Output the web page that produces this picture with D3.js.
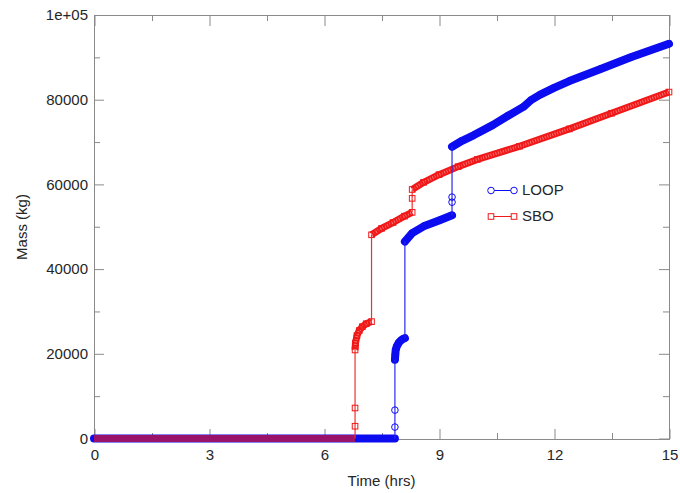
<!DOCTYPE html>
<html>
<head>
<meta charset="utf-8">
<script src="https://cdn.jsdelivr.net/npm/d3@7"></script>
<style>
  html, body { margin: 0; padding: 0; background: #fff; }
  svg { display: block; font-family: "Liberation Sans", Arial, sans-serif; }
</style>
</head>
<body>
<svg id="chart" width="680" height="493"></svg>
<script>
// ---- Data ----
const loopTime = [0, 7.85, 7.85, 7.85, 7.85, 7.86, 7.87, 7.90, 7.95, 8.00, 8.05, 8.11,
                  8.11, 8.30, 8.60, 9.00, 9.34,
                  9.34, 9.34, 9.34, 9.60, 9.90, 10.40, 10.80, 11.20, 11.40, 11.64, 12.00, 12.40, 13.20, 14.00, 15.00];
const loopMass = [0, 0, 2700, 6700, 18600, 19800, 20900, 21800, 22600, 23100, 23450, 23700,
                  46500, 48500, 50100, 51500, 52700,
                  55800, 57000, 68900, 70300, 71600, 74000, 76200, 78300, 79900, 81200, 82800, 84400, 87200, 90000, 93200];

const sboTime = [0, 6.81, 6.81, 6.81, 6.81, 6.82, 6.86, 6.92, 7.00, 7.10, 7.24,
                 7.24, 7.50, 7.80, 8.10, 8.30,
                 8.30, 8.30, 8.60, 9.00, 9.50, 10.00, 11.10, 12.40, 13.50, 15.00];
const sboMass = [0, 0, 2900, 7200, 20900, 22500, 24300, 25500, 26400, 27100, 27600,
                 48100, 49600, 51000, 52500, 53400,
                 56700, 58800, 60500, 62300, 64200, 65900, 69000, 73100, 76800, 81800];

const seriesNames = ["LOOP", "SBO"];
const xTicks = [0, 3, 6, 9, 12, 15];
const xTickLabels = ["0", "3", "6", "9", "12", "15"];
const xMinorTicks = [1.5, 4.5, 7.5, 10.5, 13.5];
const yTicks = [0, 20000, 40000, 60000, 80000, 100000];
const yTickLabels = ["0", "20000", "40000", "60000", "80000", "1e+05"];
const yMinorTicks = [10000, 30000, 50000, 70000, 90000];

// ---- Layout ----
const L = 94, R = 669, T = 15, B = 439;
const BLUE = "#0c0cf0", RED = "#f01818", AXIS = "#8a8a8a", TEXT = "#262626";
const FS = 15;

const svg = d3.select("#chart");
const x = d3.scaleLinear().domain([0, 15]).range([L, R]);
const y = d3.scaleLinear().domain([0, 100000]).range([B - 0.5, T]);

// frame
svg.append("rect").attr("x", L + 0.5).attr("y", T + 0.5).attr("width", R - L).attr("height", B - T)
  .attr("fill", "none").attr("stroke", AXIS).attr("stroke-width", 1);

function styleAxis(g, showLabels) {
  g.select(".domain").remove();
  g.selectAll(".tick line").attr("stroke", AXIS);
  if (!showLabels) g.selectAll(".tick text").remove();
  else g.selectAll(".tick text").attr("fill", TEXT).attr("font-size", FS)
        .attr("font-family", "Liberation Sans, Arial, sans-serif");
}
// bottom
svg.append("g").attr("transform", `translate(0.5,${B})`)
  .call(d3.axisBottom(x).tickValues(xTicks).tickSize(-10).tickPadding(10)
        .tickFormat((d, i) => xTickLabels[i])).call(g => styleAxis(g, true));
svg.append("g").attr("transform", `translate(0.5,${B})`)
  .call(d3.axisBottom(x).tickValues(xMinorTicks).tickSize(-6).tickFormat(""))
  .call(g => styleAxis(g, false));
// top
svg.append("g").attr("transform", `translate(0.5,${T})`)
  .call(d3.axisTop(x).tickValues(xTicks).tickSize(-11).tickFormat(""))
  .call(g => styleAxis(g, false));
svg.append("g").attr("transform", `translate(0.5,${T})`)
  .call(d3.axisTop(x).tickValues(xMinorTicks).tickSize(-6).tickFormat(""))
  .call(g => styleAxis(g, false));
// left
svg.append("g").attr("transform", `translate(${L},0)`)
  .call(d3.axisLeft(y).tickValues(yTicks).tickSize(-10).tickPadding(6)
        .tickFormat((d, i) => yTickLabels[i])).call(g => styleAxis(g, true));
svg.append("g").attr("transform", `translate(${L},0)`)
  .call(d3.axisLeft(y).tickValues(yMinorTicks).tickSize(-6).tickFormat(""))
  .call(g => styleAxis(g, false));
// right
svg.append("g").attr("transform", `translate(${R},0)`)
  .call(d3.axisRight(y).tickValues(yTicks).tickSize(-10).tickFormat(""))
  .call(g => styleAxis(g, false));
svg.append("g").attr("transform", `translate(${R},0)`)
  .call(d3.axisRight(y).tickValues(yMinorTicks).tickSize(-6).tickFormat(""))
  .call(g => styleAxis(g, false));

// axis titles
svg.append("text").attr("x", (L + R) / 2).attr("y", 486).attr("text-anchor", "middle")
  .attr("font-size", FS).attr("fill", TEXT).text("Time (hrs)");
svg.append("text").attr("transform", `translate(27,${(T + B) / 2}) rotate(-90)`)
  .attr("text-anchor", "middle").attr("font-size", FS).attr("fill", TEXT).text("Mass (kg)");

// ---- series drawing ----
// consecutive points with increasing time = densely sampled run (drawn as a band of markers),
// equal time = a jump (drawn as a thin connecting line)
function split(t, m) {
  const pts = t.map((v, i) => [v, m[i]]);
  const bands = [], thins = [];
  let cur = null;
  for (let i = 0; i < pts.length - 1; i++) {
    if (pts[i + 1][0] > pts[i][0]) {
      if (!cur) cur = [pts[i]];
      cur.push(pts[i + 1]);
    } else {
      if (cur) { bands.push(cur); cur = null; }
      thins.push([pts[i], pts[i + 1]]);
    }
  }
  if (cur) bands.push(cur);
  return { pts, bands, thins };
}
const line = d3.line().x(d => x(d[0])).y(d => y(d[1]));
const loop = split(loopTime, loopMass);
const sbo = split(sboTime, sboMass);
const overlapsBase = b => b.every(p => p[1] === 0);

const gData = svg.append("g");
// blue bands
gData.selectAll(".lb").data(loop.bands).join("path")
  .attr("d", line).attr("fill", "none").attr("stroke", BLUE).attr("stroke-width", 8)
  .attr("stroke-linecap", "round").attr("stroke-linejoin", "round");
// red bands (open squares overlapping): solid where alone, see-through where over the blue run
gData.selectAll(".rb").data(sbo.bands).join("path")
  .attr("d", line).attr("fill", "none").attr("stroke", RED).attr("stroke-width", 7)
  .attr("stroke-opacity", b => overlapsBase(b) ? 0.62 : 1)
  .attr("stroke-linejoin", "round");
gData.selectAll(".rh").data(sbo.bands.filter(b => !overlapsBase(b))).join("path")
  .attr("d", line).attr("fill", "none").attr("stroke", "#ffb8b8").attr("stroke-width", 3)
  .attr("stroke-opacity", 0.55).attr("stroke-dasharray", "1 1.6");
// thin jump lines
gData.selectAll(".rt").data(sbo.thins).join("path")
  .attr("d", line).attr("fill", "none").attr("stroke", "#f03030").attr("stroke-width", 1.2);
gData.selectAll(".lt").data(loop.thins).join("path")
  .attr("d", line).attr("fill", "none").attr("stroke", "#2a2af0").attr("stroke-width", 1.2);
// markers
gData.selectAll(".rm").data(sbo.pts.filter(p => p[1] > 0)).join("rect")
  .attr("x", d => x(d[0]) - 2.8).attr("y", d => y(d[1]) - 2.8)
  .attr("width", 5.6).attr("height", 5.6).attr("fill", "none").attr("stroke", RED).attr("stroke-width", 1);
gData.selectAll(".lm").data(loop.pts.filter(p => p[1] > 0)).join("circle")
  .attr("cx", d => x(d[0])).attr("cy", d => y(d[1])).attr("r", 3.3)
  .attr("fill", "none").attr("stroke", BLUE).attr("stroke-width", 1);

// ---- legend ----
const legend = svg.append("g");
const legItems = [
  { name: seriesNames[0], color: BLUE, shape: "circle", y: 190 },
  { name: seriesNames[1], color: RED, shape: "square", y: 216 }
];
legItems.forEach(it => {
  legend.append("line").attr("x1", 491).attr("x2", 514).attr("y1", it.y + 0.5).attr("y2", it.y + 0.5)
    .attr("stroke", it.color).attr("stroke-width", 1);
  [491, 514].forEach(cx => {
    if (it.shape === "circle") {
      legend.append("circle").attr("cx", cx).attr("cy", it.y + 0.5).attr("r", 3.3)
        .attr("fill", "#fff").attr("stroke", it.color);
    } else {
      legend.append("rect").attr("x", cx - 2.8).attr("y", it.y + 0.5 - 2.8).attr("width", 5.6).attr("height", 5.6)
        .attr("fill", "#fff").attr("stroke", it.color);
    }
  });
  legend.append("text").attr("x", 522).attr("y", it.y).attr("dy", "0.36em")
    .attr("font-size", FS).attr("fill", TEXT).text(it.name);
});
</script>
</body>
</html>
